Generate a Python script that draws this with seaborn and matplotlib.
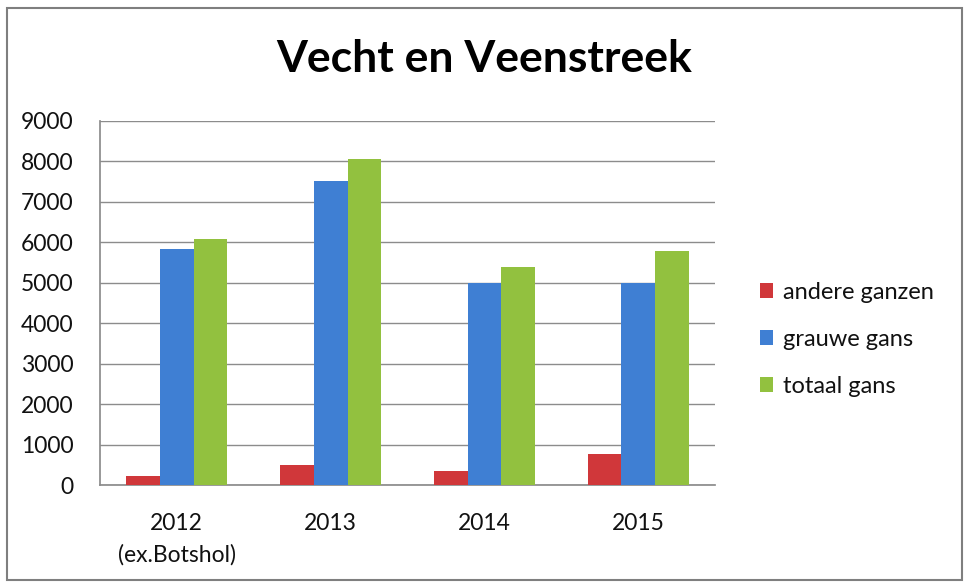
import pandas as pd
import seaborn as sns
import matplotlib.pyplot as plt
from matplotlib.patches import Rectangle

years = ['2012\n(ex.Botshol)', '2013', '2014', '2015']
series = ['andere ganzen', 'grauwe gans', 'totaal gans']
andere_ganzen = [230, 490, 350, 770]
grauwe_gans = [5830, 7520, 5000, 5000]
totaal_gans = [6080, 8060, 5380, 5780]

df = pd.DataFrame({
    'jaar': years * 3,
    'soort': [s for s in series for _ in years],
    'aantal': andere_ganzen + grauwe_gans + totaal_gans,
})

sns.set_theme(style='white')
plt.rcParams['font.family'] = ['Lato', 'DejaVu Sans']
plt.rcParams['text.color'] = '#111111'
plt.rcParams['xtick.color'] = '#111111'
plt.rcParams['ytick.color'] = '#111111'

fig = plt.figure(figsize=(9.68, 5.83), dpi=100)
ax = fig.add_axes([0.103, 0.168, 0.636, 0.625])

colors = ['#D0373A', '#3F7FD3', '#92C13F']
sns.barplot(data=df, x='jaar', y='aantal', hue='soort', palette=colors,
            width=0.66, ax=ax, saturation=1, linewidth=0, zorder=3)

ax.set_xlim(-0.5, 3.5)
ax.set_ylim(0, 9000)
ax.set_yticks(range(0, 9001, 1000))
ax.yaxis.grid(True, color='#8c8c8c', linewidth=1, zorder=0)
ax.set_xlabel('')
ax.set_ylabel('')

# y ticks: small marks pointing left
ax.tick_params(axis='y', labelsize=16.5, length=5, width=1, color='#8c8c8c',
               direction='out', pad=14)
# x ticks: no marks at the labels, marks between the groups
ax.tick_params(axis='x', which='major', labelsize=16.5, length=0, pad=20)
ax.set_xticks([x - 0.5 for x in range(5)], minor=True)
ax.tick_params(axis='x', which='minor', length=6, width=1, color='#8c8c8c',
               direction='out')
for lab in ax.get_xticklabels():
    lab.set_linespacing(1.6)
    lab.set_verticalalignment('top')

for s in ['top', 'right']:
    ax.spines[s].set_visible(False)
for s in ['left', 'bottom']:
    ax.spines[s].set_color('#8c8c8c')

ax.legend(loc='center left', bbox_to_anchor=(0.773, 0.418),
          bbox_transform=fig.transFigure, frameon=False, borderpad=0,
          fontsize=17, handlelength=0.55, handleheight=0.55,
          handletextpad=0.4, labelspacing=1.1)

fig.text(0.5, 0.898, 'Vecht en Veenstreek', fontsize=32, fontweight='bold',
         ha='center', va='center', color='black')

fig.patches.append(Rectangle((0.007, 0.005), 0.987, 0.981, transform=fig.transFigure,
                             fill=False, edgecolor='#7f7f7f', linewidth=1.5))

fig.savefig('out.png', dpi=100)
